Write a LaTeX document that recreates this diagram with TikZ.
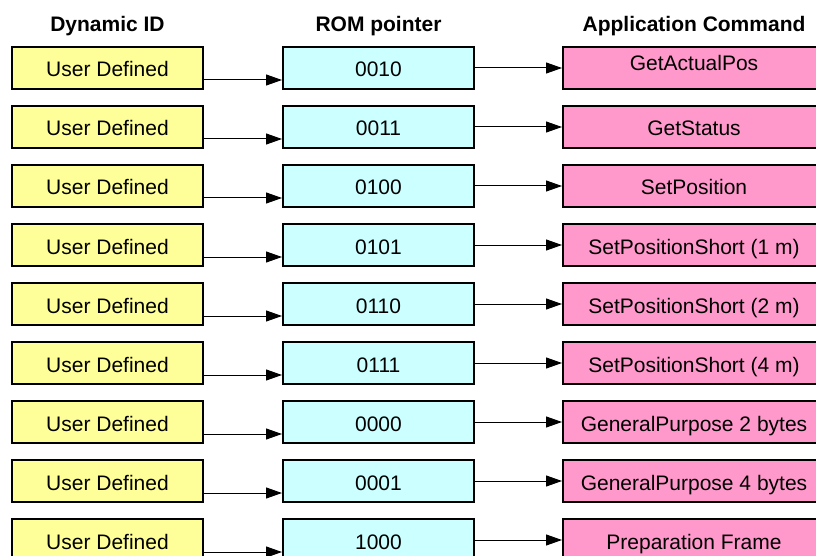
\documentclass[tikz,border=0pt]{standalone}
\usepackage{fontspec}
\setmainfont{Liberation Sans}
\usepackage{xcolor}
\usetikzlibrary{arrows.meta}

\definecolor{userY}{HTML}{FFFF99}
\definecolor{romC}{HTML}{CCFFFF}
\definecolor{cmdP}{HTML}{FF99CC}

\tikzset{
    box/.style={draw, line width=2pt, inner sep=0pt, minimum height=42pt,
        text height=20.5pt, text depth=2.5pt, font=\fontsize{21pt}{25pt}\selectfont},
    idbox/.style={box, fill=userY, minimum width=191pt},
    rombox/.style={box, fill=romC, minimum width=191pt},
    cmdbox/.style={box, fill=cmdP, minimum width=262pt},
    head/.style={text height=19pt, text depth=4pt, inner sep=0pt,
        font=\fontsize{21pt}{25pt}\selectfont\bfseries},
    link/.style={-{Triangle[length=16pt,width=11pt]}, line width=1pt}
}

\begin{document}
\begin{tikzpicture}[x=1pt, y=-1pt]
    \useasboundingbox (0,0) rectangle (816,556);
    \clip (0,0) rectangle (816,556);

    % column titles
    \node[head] (hid) at (107.5,24.5) {Dynamic ID};
    \node[head] (hrom) at (378.5,24.5) {ROM pointer};
    \node[head] (hcmd) at (694,24.5) {Application Command};

    % Dynamic ID column
    \node[idbox] (id1) at (107.5,68) {User Defined};
    \node[idbox] (id2) at (107.5,127) {User Defined};
    \node[idbox] (id3) at (107.5,186) {User Defined};
    \node[idbox] (id4) at (107.5,245) {User Defined};
    \node[idbox] (id5) at (107.5,304) {User Defined};
    \node[idbox] (id6) at (107.5,363) {User Defined};
    \node[idbox] (id7) at (107.5,422) {User Defined};
    \node[idbox] (id8) at (107.5,481) {User Defined};
    \node[idbox] (id9) at (107.5,540) {User Defined};

    % ROM pointer column
    \node[rombox] (rom1) at (378.5,68) {0010};
    \node[rombox] (rom2) at (378.5,127) {0011};
    \node[rombox] (rom3) at (378.5,186) {0100};
    \node[rombox] (rom4) at (378.5,245) {0101};
    \node[rombox] (rom5) at (378.5,304) {0110};
    \node[rombox] (rom6) at (378.5,363) {0111};
    \node[rombox] (rom7) at (378.5,422) {0000};
    \node[rombox] (rom8) at (378.5,481) {0001};
    \node[rombox] (rom9) at (378.5,540) {1000};

    % Application Command column
    \node[cmdbox, text height=14pt, text depth=8pt] (cmd1) at (694,68) {GetActualPos};
    \node[cmdbox] (cmd2) at (694,127) {GetStatus};
    \node[cmdbox] (cmd3) at (694,186) {SetPosition};
    \node[cmdbox] (cmd4) at (694,245) {SetPositionShort (1 m)};
    \node[cmdbox] (cmd5) at (694,304) {SetPositionShort (2 m)};
    \node[cmdbox] (cmd6) at (694,363) {SetPositionShort (4 m)};
    \node[cmdbox] (cmd7) at (694,422) {GeneralPurpose 2 bytes};
    \node[cmdbox] (cmd8) at (694,481) {GeneralPurpose 4 bytes};
    \node[cmdbox] (cmd9) at (694,540) {Preparation Frame};

    % ID -> ROM pointer
    \draw[link] ([yshift=-12pt]id1.east) -- ([yshift=-12pt]rom1.west);
    \draw[link] ([yshift=-12pt]id2.east) -- ([yshift=-12pt]rom2.west);
    \draw[link] ([yshift=-12pt]id3.east) -- ([yshift=-12pt]rom3.west);
    \draw[link] ([yshift=-12pt]id4.east) -- ([yshift=-12pt]rom4.west);
    \draw[link] ([yshift=-12pt]id5.east) -- ([yshift=-12pt]rom5.west);
    \draw[link] ([yshift=-12pt]id6.east) -- ([yshift=-12pt]rom6.west);
    \draw[link] ([yshift=-12pt]id7.east) -- ([yshift=-12pt]rom7.west);
    \draw[link] ([yshift=-12pt]id8.east) -- ([yshift=-12pt]rom8.west);
    \draw[link] ([yshift=-12pt]id9.east) -- ([yshift=-12pt]rom9.west);

    % ROM pointer -> command
    \draw[link] (rom1) -- (cmd1);
    \draw[link] (rom2) -- (cmd2);
    \draw[link] (rom3) -- (cmd3);
    \draw[link] (rom4) -- (cmd4);
    \draw[link] (rom5) -- (cmd5);
    \draw[link] (rom6) -- (cmd6);
    \draw[link] (rom7) -- (cmd7);
    \draw[link] (rom8) -- (cmd8);
    \draw[link] (rom9) -- (cmd9);
\end{tikzpicture}
\end{document}
